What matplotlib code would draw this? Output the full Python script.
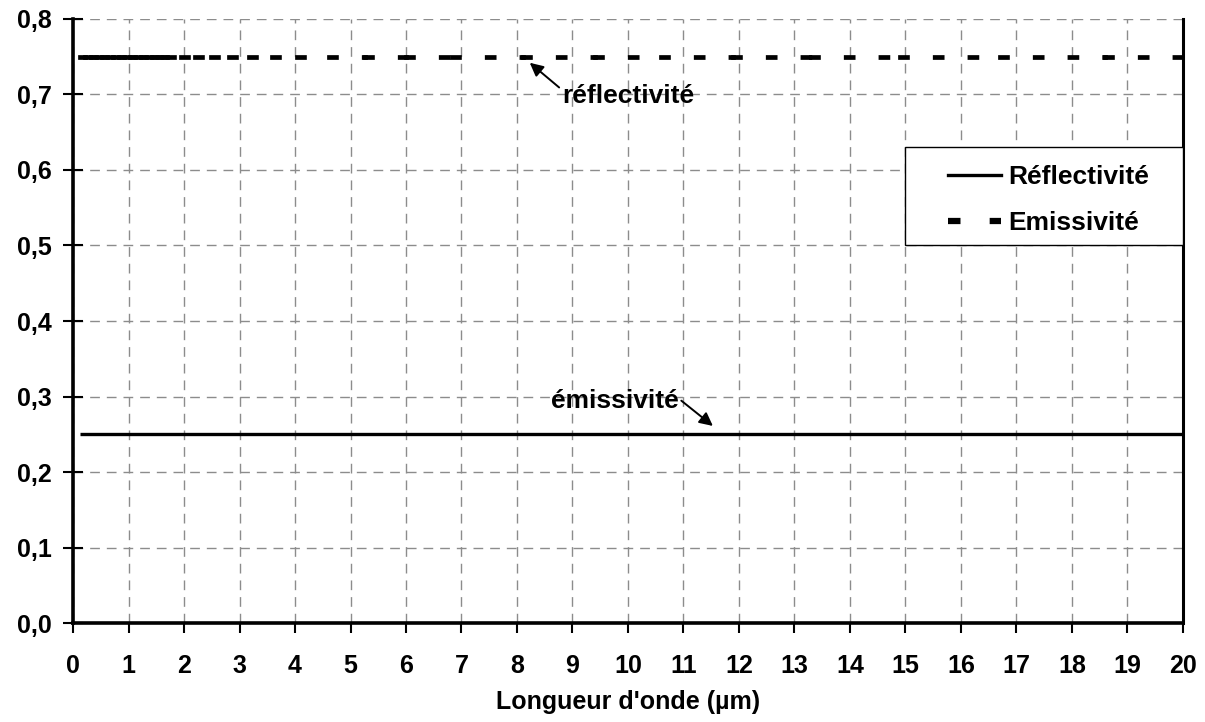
import matplotlib
matplotlib.use("Agg")
import matplotlib.pyplot as plt
from matplotlib.collections import LineCollection
from matplotlib.lines import Line2D
from matplotlib.patches import Rectangle
from matplotlib.ticker import FuncFormatter

plt.rcParams['font.family'] = ['Liberation Sans', 'DejaVu Sans']
plt.rcParams['font.weight'] = 'bold'

# wavelength samples (µm), dense at short wavelengths
wl = [0.12, 0.22, 0.32, 0.42, 0.52, 0.62, 0.72, 0.82, 0.92, 1.02, 1.12, 1.22, 1.32,
      1.42, 1.52, 1.61, 1.69,
      1.95, 2.2, 2.49, 2.81, 3.17, 3.59, 4.04, 4.61, 5.26, 6.0, 6.83,
      8.1, 9.4, 10.6, 11.9, 13.3, 14.9, 16.7, 18.6, 20.0]
reflectivite = [0.25] * len(wl)
emissivite = [0.75] * len(wl)

series_names = ["Réflectivité", "Emissivité"]
x_ticks = list(range(0, 21))
y_ticks = [0.0, 0.1, 0.2, 0.3, 0.4, 0.5, 0.6, 0.7, 0.8]

fig = plt.figure(figsize=(12.05, 7.22), dpi=100)
ax = fig.add_axes([0.0606, 0.1371, 0.9211, 0.8366])

ax.set_xlim(0, 20)
ax.set_ylim(0, 0.8)
ax.set_xticks(x_ticks)
ax.set_yticks(y_ticks)
ax.yaxis.set_major_formatter(FuncFormatter(lambda v, p: f"{v:.1f}".replace('.', ',')))

ax.grid(True, color='#8c8c8c', linewidth=1.0, linestyle=(0, (7, 5)))
ax.set_axisbelow(True)

# solid series
ax.plot(wl, reflectivite, color='black', linewidth=2.4, solid_capstyle='butt', zorder=3)

# dashed series: each segment restarts its dash pattern (Excel style)
lw_d = 3.4
segs = [[(wl[i], emissivite[i]), (wl[i + 1], emissivite[i + 1])] for i in range(len(wl) - 1)]
lc = LineCollection(segs, colors='black', linewidths=lw_d,
                    linestyles=[(0, (5.0 / lw_d, 20 / lw_d))], capstyle='projecting', zorder=3)
ax.add_collection(lc)

# spines and ticks
ax.spines['top'].set_visible(False)
ax.spines['left'].set_linewidth(2.6)
ax.spines['bottom'].set_linewidth(2.6)
ax.spines['right'].set_linewidth(2.2)
ax.tick_params(axis='y', direction='inout', length=14, width=1.5, pad=8, labelsize=18)
ax.tick_params(axis='x', direction='out', length=7, width=1.5, pad=15, labelsize=18)
for lab in ax.get_xticklabels() + ax.get_yticklabels():
    lab.set_fontweight('bold')

ax.set_xlabel("Longueur d'onde (µm)", fontsize=18, fontweight='bold', labelpad=9)

# annotations
ax.annotate("réflectivité", xy=(8.23, 0.742), xytext=(10.0, 0.689),
            ha='center', va='baseline', fontsize=19, fontweight='bold',
            arrowprops=dict(arrowstyle='-|>', color='black', lw=1.4,
                            mutation_scale=20, shrinkA=0, shrinkB=0, relpos=(0, 0.75)))
ax.annotate("émissivité", xy=(11.53, 0.261), xytext=(9.76, 0.285),
            ha='center', va='baseline', fontsize=19, fontweight='bold',
            arrowprops=dict(arrowstyle='-|>', color='black', lw=1.4,
                            mutation_scale=20, shrinkA=0, shrinkB=0, relpos=(1, 0.6)))

# legend box
ax.add_patch(Rectangle((0.750, 0.626), 0.25, 0.162, transform=ax.transAxes,
                       facecolor='white', edgecolor='black', linewidth=1.0,
                       zorder=4, clip_on=False))
handles = [Line2D([], [], color='black', linewidth=2.4),
           Line2D([], [], color='black', linewidth=4.5, dash_capstyle='butt',
                  linestyle=(0, (9 / 4.5, 21 / 4.5)))]
leg = ax.legend(handles, series_names, loc='center', bbox_to_anchor=(0.879, 0.700),
                frameon=False, handlelength=2.0, handletextpad=0.3,
                labelspacing=0.85, prop={'weight': 'bold', 'size': 19})
leg.set_zorder(5)

fig.savefig("out.png", dpi=100)
